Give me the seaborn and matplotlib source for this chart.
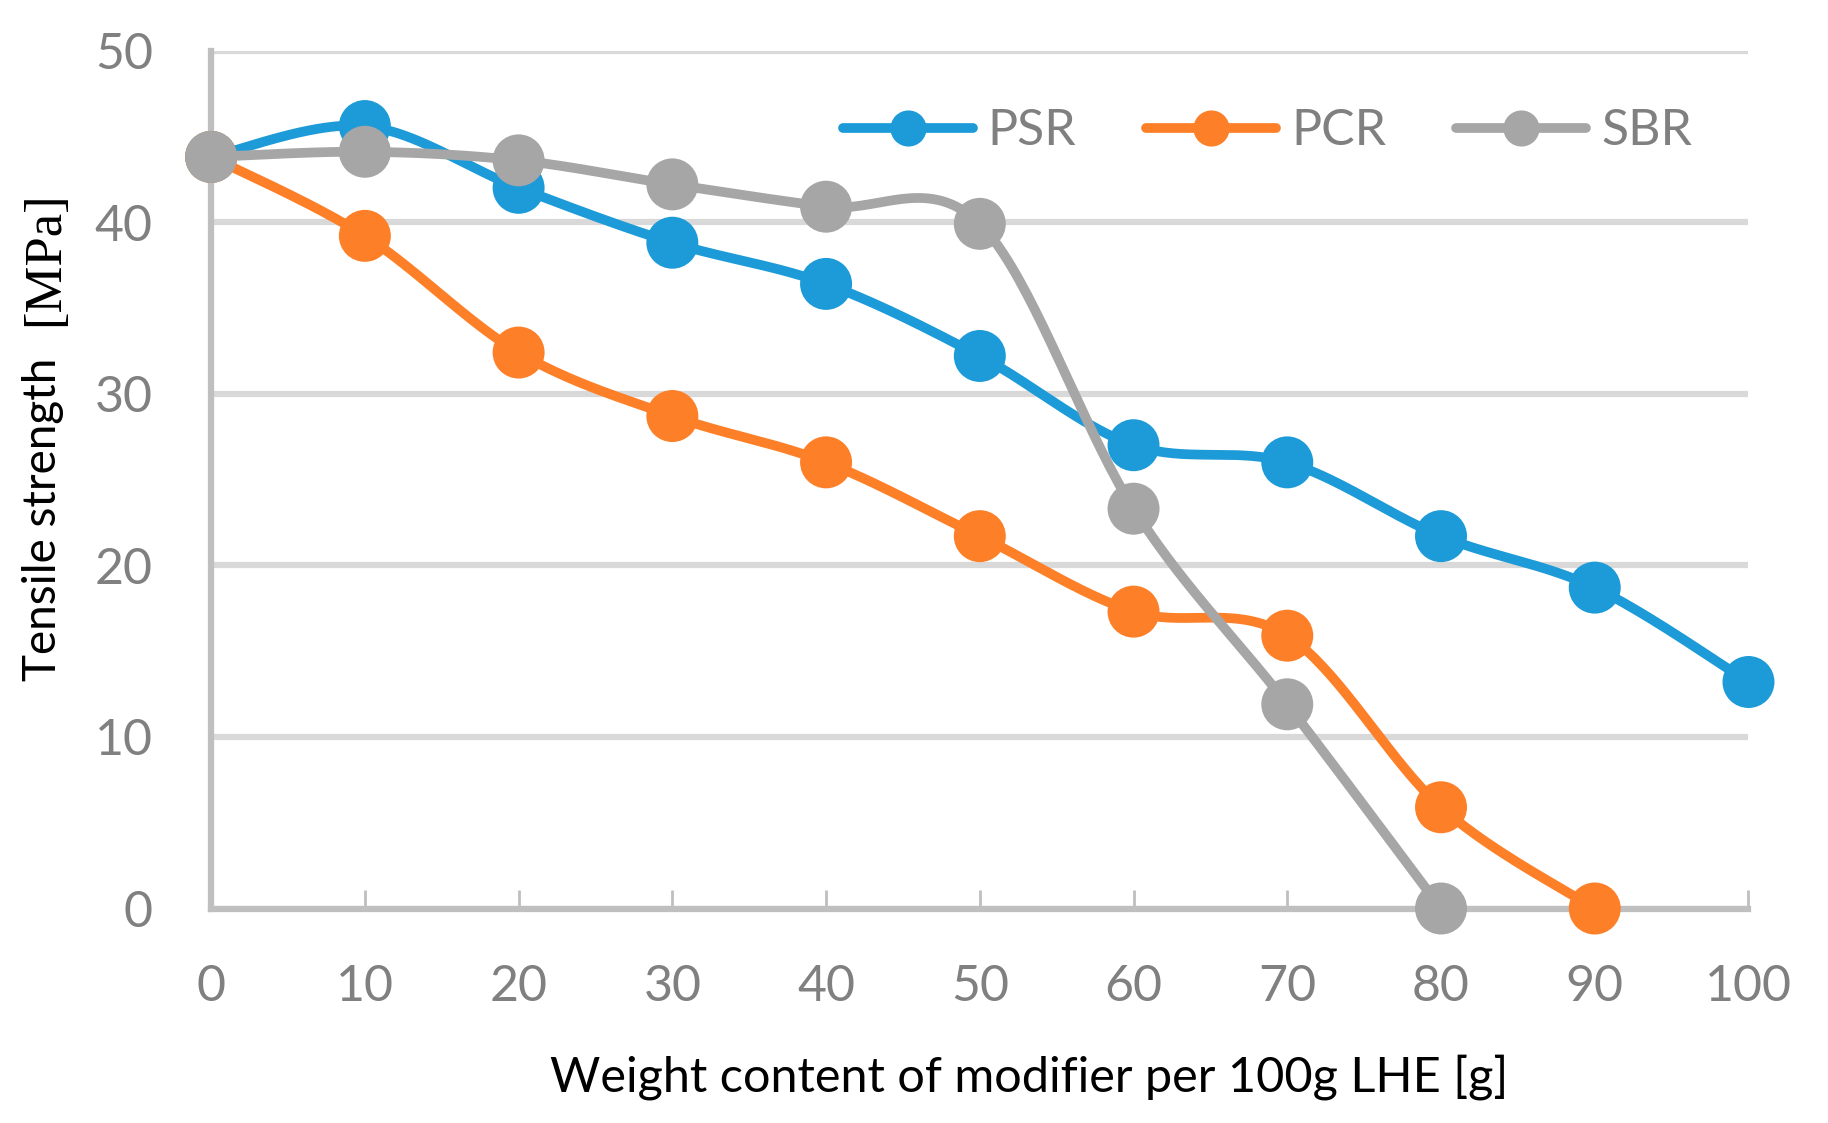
import matplotlib
matplotlib.use('Agg')
import matplotlib.pyplot as plt
from matplotlib.lines import Line2D
import numpy as np
import pandas as pd
import seaborn as sns

# values
content = [0, 10, 20, 30, 40, 50, 60, 70, 80, 90, 100]
psr = [43.8, 45.6, 42.0, 38.8, 36.4, 32.2, 27.0, 26.0, 21.7, 18.7, 13.2]
pcr = [43.8, 39.2, 32.4, 28.7, 26.0, 21.7, 17.3, 15.9, 5.9, 0.0]
sbr = [43.8, 44.1, 43.6, 42.2, 40.9, 39.9, 23.3, 11.9, 0.0]
names = ['PSR', 'PCR', 'SBR']
colors = ['#1C9BD8', '#FD7F27', '#A6A6A6']


def smooth(x, y, n=40):
    # Excel style smoothed line (cubic bezier through the points)
    p = np.column_stack([x, y]).astype(float)
    p = np.vstack([p[0], p, p[-1]])
    out = []
    for i in range(1, len(p) - 2):
        p0, p3 = p[i], p[i + 1]
        c1 = p0 + (p[i + 1] - p[i - 1]) / 6
        c2 = p3 - (p[i + 2] - p[i]) / 6
        t = np.linspace(0, 1, n)[:, None]
        seg = ((1 - t) ** 3) * p0 + 3 * ((1 - t) ** 2) * t * c1 + 3 * (1 - t) * t ** 2 * c2 + t ** 3 * p3
        out.append(seg if i == 1 else seg[1:])
    out = np.vstack(out)
    return out[:, 0], out[:, 1]


sns.set_theme(style='white')
plt.rcParams['font.family'] = ['Lato', 'DejaVu Sans']

fig, ax = plt.subplots(figsize=(18.28, 11.23), dpi=100)
fig.subplots_adjust(left=0.1155, right=0.9565, top=0.955, bottom=0.191)

series = [psr, pcr, sbr]
for k, (name, vals, col) in enumerate(zip(names, series, colors)):
    xs = content[:len(vals)]
    sx, sy = smooth(xs, vals)
    df_line = pd.DataFrame({'x': sx, 'y': sy})
    sns.lineplot(data=df_line, x='x', y='y', ax=ax, color=col, lw=7, sort=False,
                 zorder=3 + 2 * k, estimator=None, solid_capstyle='round')
    df_pts = pd.DataFrame({'x': xs, 'y': vals})
    sns.scatterplot(data=df_pts, x='x', y='y', ax=ax, color=col, s=1400,
                    edgecolor='none', zorder=4 + 2 * k, clip_on=False)

ax.set_xlim(0, 100)
ax.set_ylim(0, 50)
ax.set_xticks(range(0, 101, 10))
ax.set_yticks(range(0, 51, 10))
ax.yaxis.grid(True, color='#D9D9D9', lw=4.5)
ax.xaxis.grid(False)
for s in ['top', 'right']:
    ax.spines[s].set_visible(False)
for s in ['left', 'bottom']:
    ax.spines[s].set_color('#BFBFBF')
    ax.spines[s].set_linewidth(4.5)
    ax.spines[s].set_zorder(2)
ax.tick_params(axis='x', direction='in', length=14, width=2, color='#BFBFBF',
               pad=40, labelsize=36, labelcolor='#808080', bottom=True)
ax.tick_params(axis='y', length=0, pad=42, labelsize=36, labelcolor='#808080')

ax.set_xlabel('Weight content of modifier per 100g LHE [g]', fontsize=35, color='black')
ax.xaxis.set_label_coords(0.532, -0.17)
ax.set_ylabel('')
fig.text(0.0235, 0.538, 'Tensile strength', rotation=90, ha='center', va='center',
         fontsize=33, color='black')
fig.text(0.0245, 0.770, '[MPa]', rotation=90, ha='center', va='center',
         fontsize=38, color='black', family='Liberation Serif')

handles = [Line2D([], [], color=c, lw=7, marker='o', markersize=26, markeredgewidth=0)
           for c in colors]
ax.legend(handles, names, loc='center', bbox_to_anchor=(0.687, 0.906), ncol=3,
          frameon=False, fontsize=36, labelcolor='#808080', handlelength=2.6,
          handletextpad=0.3, columnspacing=1.4)

fig.savefig('out.png', dpi=100)
